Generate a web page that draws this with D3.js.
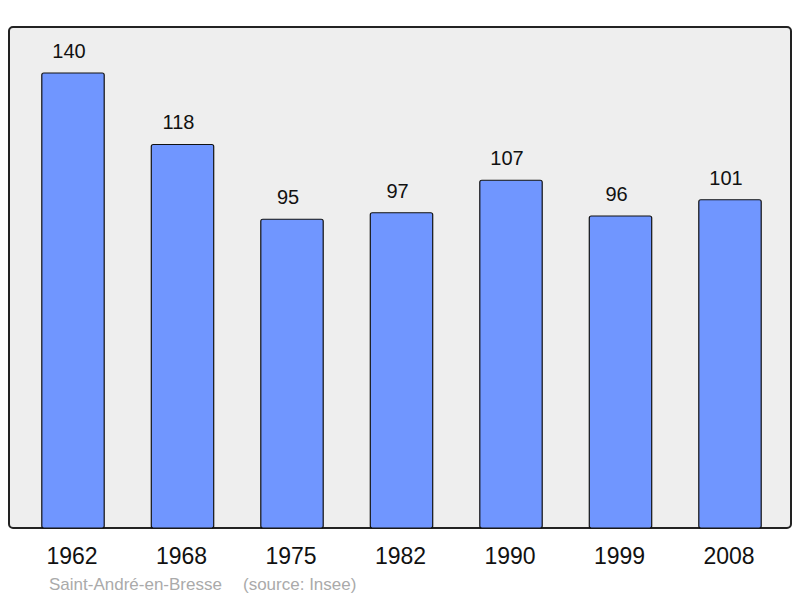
<!DOCTYPE html>
<html><head><meta charset="utf-8">
<script src="https://cdn.jsdelivr.net/npm/d3@7"></script>
<style>body{margin:0;background:#fff}svg{display:block;font-family:"Liberation Sans",Arial,sans-serif}</style>
</head><body><svg id="c" width="800" height="598"></svg>
<script>
const years = ["1962","1968","1975","1982","1990","1999","2008"];
const population = [140,118,95,97,107,96,101];
const place = "Saint-André-en-Bresse";
const source = "(source: Insee)";

const svg = d3.select("#c");
svg.append("rect").attr("x",9).attr("y",27).attr("width",782).attr("height",501)
  .attr("rx",4).attr("fill","#eeeeee").attr("stroke","#222").attr("stroke-width",2);

const x = d3.scaleBand().domain(years).range([18.25,784.75]).paddingInner(0.43).paddingOuter(0.215);
const y = d3.scaleLinear().domain([0,154.15]).range([528,27]);

svg.selectAll("rect.bar").data(years).join("rect").attr("class","bar")
  .attr("x",d=>x(d)).attr("width",x.bandwidth())
  .attr("y",(d,i)=>y(population[i])).attr("height",(d,i)=>y(0)-y(population[i]))
  .attr("rx",2).attr("fill","#7096ff").attr("stroke","#111").attr("stroke-width",1.2);

svg.selectAll("text.val").data(years).join("text").attr("class","val")
  .attr("x",d=>x(d)+x.bandwidth()/2-4).attr("y",(d,i)=>y(population[i])-15)
  .attr("text-anchor","middle").attr("font-size",20).attr("fill","#111")
  .text((d,i)=>population[i]);

const ax = svg.append("g").attr("transform","translate(-1,528)")
  .call(d3.axisBottom(x).tickSize(0).tickPadding(20));
ax.select(".domain").remove();
ax.selectAll("text").attr("font-size",23).attr("fill","#111").attr("font-family","Liberation Sans, Arial, sans-serif");

svg.append("text").attr("x",49).attr("y",590).attr("font-size",17).attr("fill","#aaaaaa").text(place);
svg.append("text").attr("x",243).attr("y",590).attr("font-size",17).attr("fill","#aaaaaa").text(source);
</script></body></html>
